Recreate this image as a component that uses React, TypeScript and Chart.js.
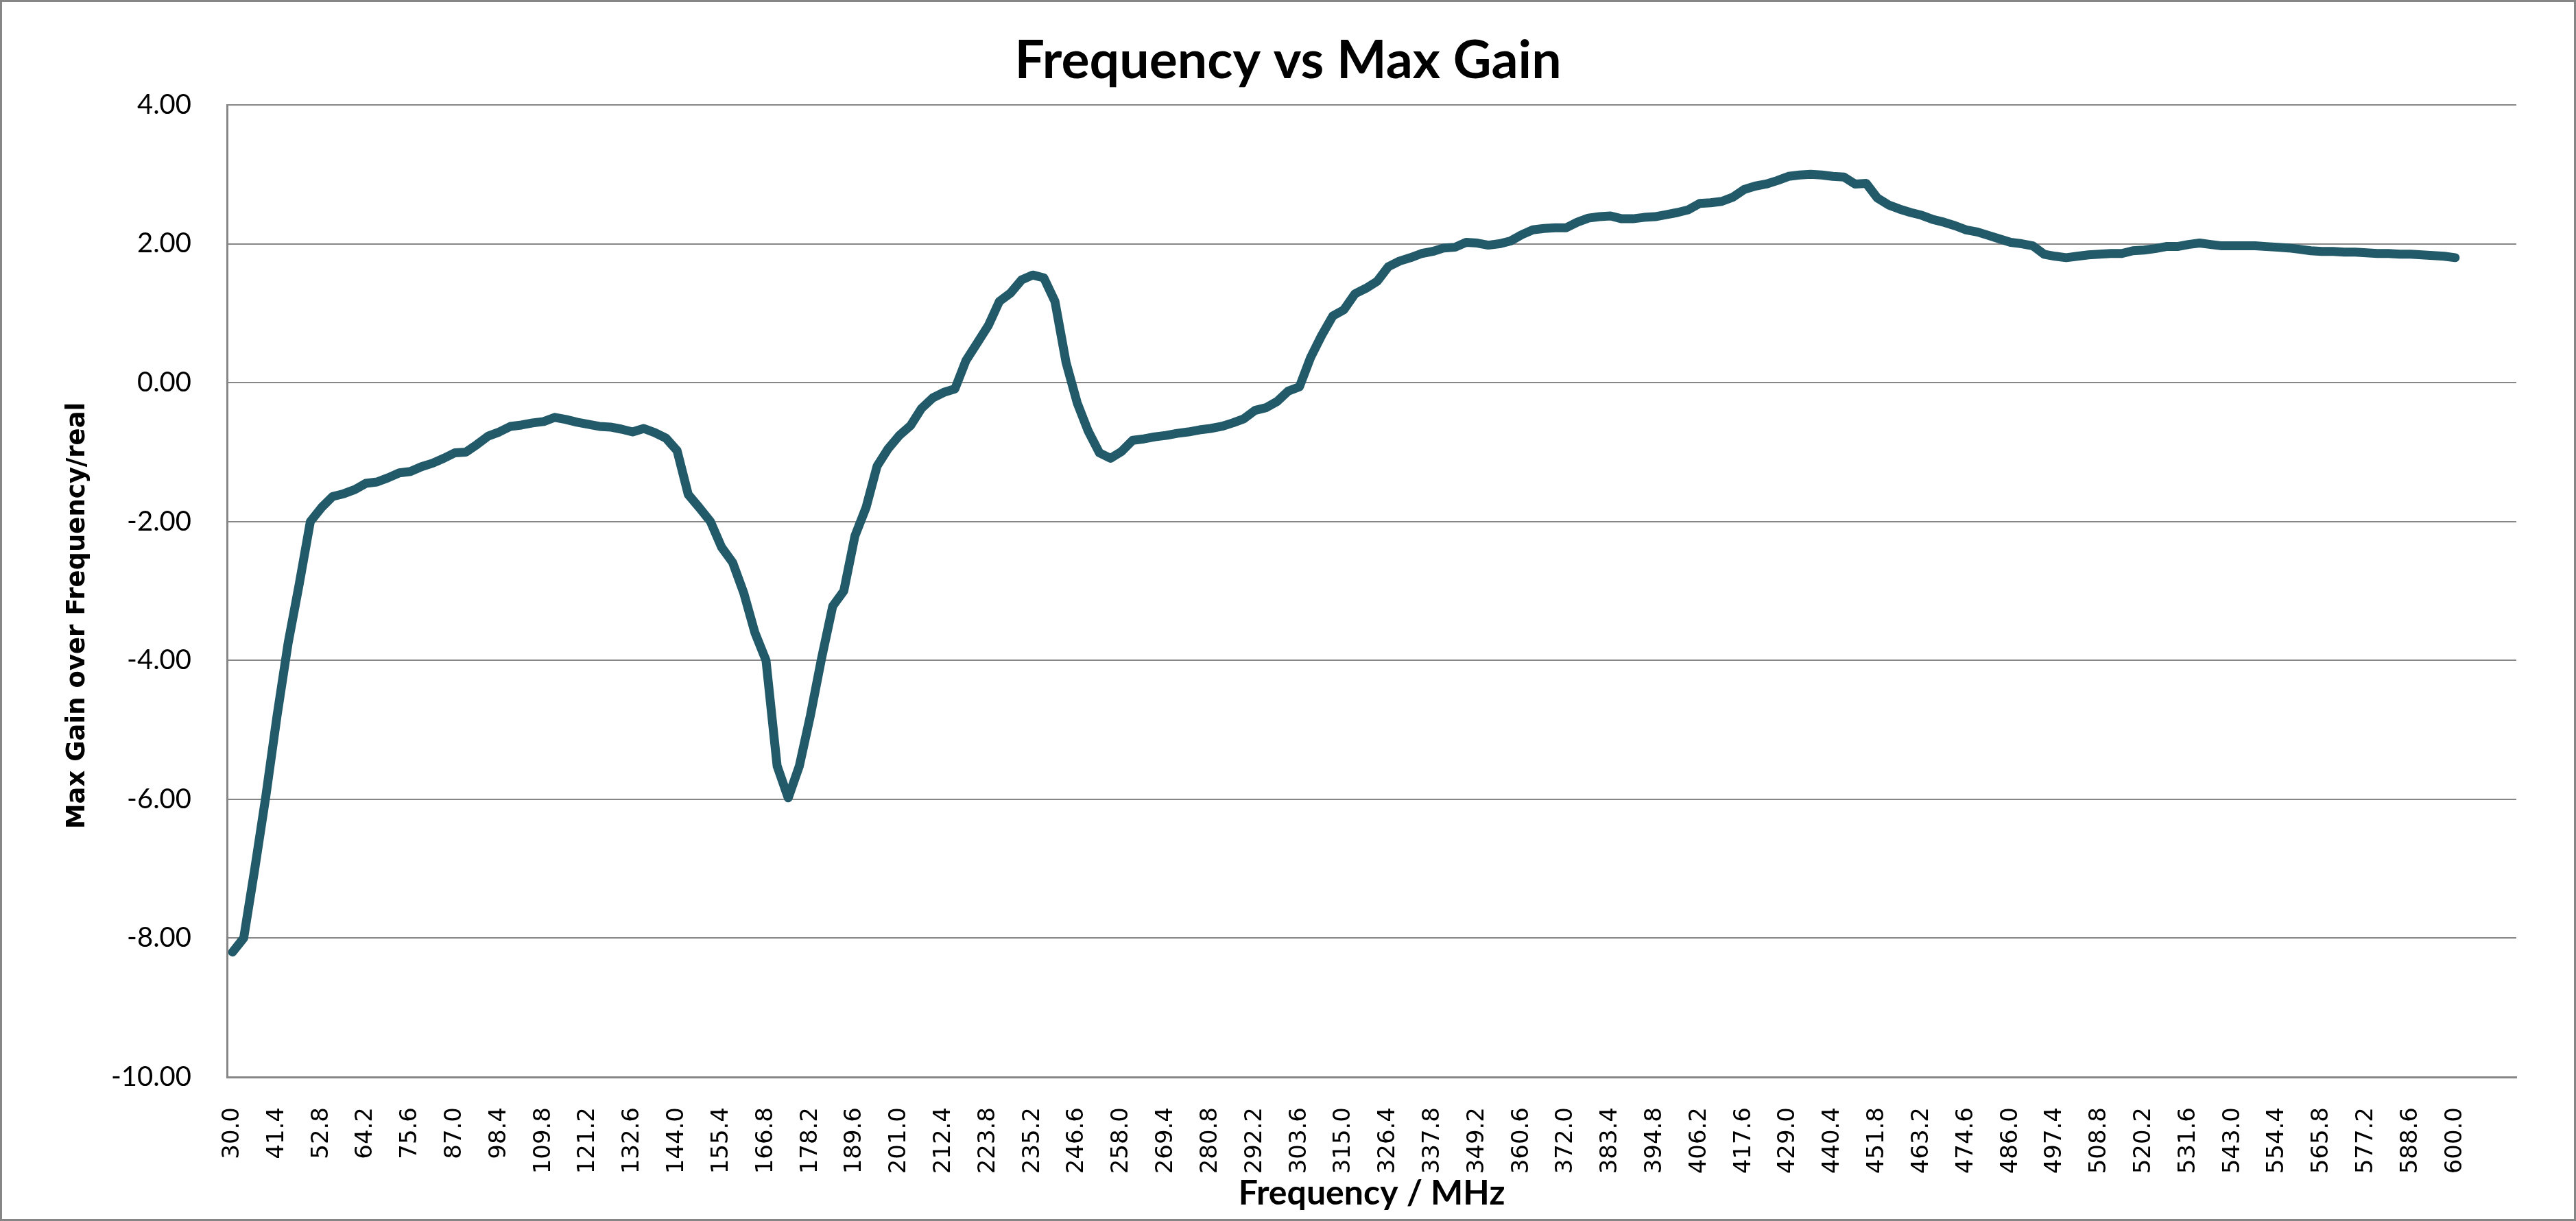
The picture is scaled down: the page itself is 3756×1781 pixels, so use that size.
import React, { useEffect, useRef } from 'react';
import { Chart, registerables } from 'chart.js';

Chart.register(...registerables);

// Frequency axis: 30 MHz start, 2.85 MHz steps (201 measured points) + 5 empty category slots
const START_MHZ = 30;
const STEP_MHZ = 2.85;
const EMPTY_TRAILING_CATEGORIES = 5;

// Max gain, one value per frequency step
const gain: number[] = [
  -8.2, -8.0, -7.0, -5.95, -4.8, -3.75, -2.9, -2.0, -1.8, -1.64,
  -1.6, -1.54, -1.45, -1.43, -1.37, -1.3, -1.28, -1.21, -1.16, -1.09,
  -1.01, -1.0, -0.89, -0.77, -0.71, -0.63, -0.61, -0.58, -0.56, -0.5,
  -0.53, -0.57, -0.6, -0.63, -0.64, -0.67, -0.71, -0.66, -0.72, -0.8,
  -0.98, -1.61, -1.8, -2.0, -2.37, -2.59, -3.03, -3.6, -4.0, -5.52,
  -5.98, -5.52, -4.79, -3.97, -3.22, -3.0, -2.21, -1.8, -1.2, -0.95,
  -0.76, -0.62, -0.37, -0.22, -0.14, -0.09, 0.32, 0.57, 0.82, 1.17,
  1.29, 1.48, 1.55, 1.51, 1.17, 0.29, -0.29, -0.7, -1.01, -1.09,
  -0.99, -0.83, -0.81, -0.78, -0.76, -0.73, -0.71, -0.68, -0.66, -0.63,
  -0.58, -0.52, -0.4, -0.36, -0.27, -0.12, -0.06, 0.36, 0.68, 0.96,
  1.05, 1.28, 1.36, 1.46, 1.67, 1.75, 1.8, 1.86, 1.89, 1.94,
  1.95, 2.02, 2.01, 1.98, 2.0, 2.04, 2.13, 2.2, 2.22, 2.23,
  2.23, 2.31, 2.37, 2.39, 2.4, 2.36, 2.36, 2.38, 2.39, 2.42,
  2.45, 2.49, 2.58, 2.59, 2.61, 2.67, 2.78, 2.83, 2.86, 2.91,
  2.97, 2.99, 3.0, 2.99, 2.97, 2.96, 2.86, 2.87, 2.66, 2.56,
  2.5, 2.45, 2.41, 2.35, 2.31, 2.26, 2.2, 2.17, 2.12, 2.07,
  2.02, 2.0, 1.97, 1.85, 1.82, 1.8, 1.82, 1.84, 1.85, 1.86,
  1.86, 1.9, 1.91, 1.93, 1.96, 1.96, 1.99, 2.01, 1.99, 1.97,
  1.97, 1.97, 1.97, 1.96, 1.95, 1.94, 1.92, 1.9, 1.89, 1.89,
  1.88, 1.88, 1.87, 1.86, 1.86, 1.85, 1.85, 1.84, 1.83, 1.82,
  1.8,
];

const xTickLabels: string[] = [
  '30.0', '41.4', '52.8', '64.2', '75.6', '87.0', '98.4', '109.8', '121.2', '132.6',
  '144.0', '155.4', '166.8', '178.2', '189.6', '201.0', '212.4', '223.8', '235.2', '246.6',
  '258.0', '269.4', '280.8', '292.2', '303.6', '315.0', '326.4', '337.8', '349.2', '360.6',
  '372.0', '383.4', '394.8', '406.2', '417.6', '429.0', '440.4', '451.8', '463.2', '474.6',
  '486.0', '497.4', '508.8', '520.2', '531.6', '543.0', '554.4', '565.8', '577.2', '588.6',
  '600.0',
];

const yTicks: number[] = [-10, -8, -6, -4, -2, 0, 2, 4];

const TITLE = 'Frequency vs Max Gain';
const X_TITLE = 'Frequency / MHz';
const Y_TITLE = 'Max Gain over Frequency/real';

const categories: string[] = [
  ...gain.map((_, i) => (START_MHZ + STEP_MHZ * i).toFixed(1)),
  ...Array(EMPTY_TRAILING_CATEGORIES).fill(''),
];

const W = 3756;
const H = 1781;
const GRAY = '#868686';

const framePlugin = {
  id: 'frameAndTitle',
  beforeDraw(chart: any) {
    const { ctx } = chart;
    ctx.save();
    ctx.fillStyle = '#ffffff';
    ctx.fillRect(0, 0, chart.width, chart.height);
    ctx.restore();
  },
  afterDraw(chart: any) {
    const { ctx } = chart;
    ctx.save();
    ctx.strokeStyle = GRAY;
    ctx.lineWidth = 3;
    ctx.strokeRect(1.5, 1.5, chart.width - 3, chart.height - 3);
    ctx.fillStyle = '#000000';
    ctx.font = 'bold 77px Lato';
    ctx.textAlign = 'center';
    ctx.textBaseline = 'alphabetic';
    ctx.fillText(TITLE, chart.width / 2, 114);
    // y-axis title
    ctx.translate(113, 898);
    ctx.rotate(-Math.PI / 2);
    ctx.font = 'bold 37px "DejaVu Sans"';
    ctx.textAlign = 'center';
    ctx.textBaseline = 'middle';
    ctx.fillText(Y_TITLE, 0, 0);
    ctx.restore();
  },
};

export default function App() {
  const ref = useRef<HTMLCanvasElement | null>(null);

  useEffect(() => {
    document.body.style.margin = '0';
    const canvas = ref.current;
    if (!canvas) return;
    const chart = new Chart(canvas, {
      type: 'line',
      data: {
        labels: categories,
        datasets: [
          {
            label: 'Max Gain',
            data: gain,
            borderColor: '#225a69',
            backgroundColor: '#225a69',
            borderWidth: 13,
            pointRadius: 0,
            tension: 0,
            borderCapStyle: 'round',
            borderJoinStyle: 'round',
            fill: false,
          },
        ],
      },
      options: {
        responsive: false,
        animation: false,
        devicePixelRatio: 1,
        layout: { padding: { top: 153, right: 87, bottom: 0, left: 0 } },
        plugins: {
          legend: { display: false },
          tooltip: { enabled: false },
          title: { display: false },
        },
        scales: {
          x: {
            type: 'category',
            offset: true,
            grid: { display: false, drawTicks: false },
            border: { display: true, color: GRAY, width: 3 },
            ticks: {
              autoSkip: false,
              maxRotation: 90,
              minRotation: 90,
              padding: 44,
              color: '#000000',
              font: { family: 'DejaVu Sans', size: 34 },
              callback: (_v: any, index: number) => {
                const lab = categories[index];
                return xTickLabels.includes(lab) ? lab : '';
              },
            },
            title: {
              display: true,
              text: X_TITLE,
              color: '#000000',
              font: { family: 'Lato', size: 50, weight: 'bold' },
              padding: { top: 0, bottom: 10 },
            },
            afterFit: (s: any) => {
              s.height = 210;
            },
          },
          y: {
            min: -10,
            max: 4,
            afterBuildTicks: (s: any) => {
              s.ticks = yTicks.map((v) => ({ value: v }));
            },
            grid: { color: GRAY, lineWidth: 2, drawTicks: false },
            border: { display: true, color: GRAY, width: 3 },
            ticks: {
              padding: 52,
              color: '#000000',
              font: { family: 'Lato', size: 40 },
              callback: (v: any) => Number(v).toFixed(2),
            },
            title: { display: false },
            afterFit: (s: any) => {
              s.width = 331;
            },
          },
        },
      },
      plugins: [framePlugin],
    });
    return () => chart.destroy();
  }, []);

  return (
    <canvas
      ref={ref}
      width={W}
      height={H}
      style={{ display: 'block', width: W + 'px', height: H + 'px' }}
    />
  );
}
